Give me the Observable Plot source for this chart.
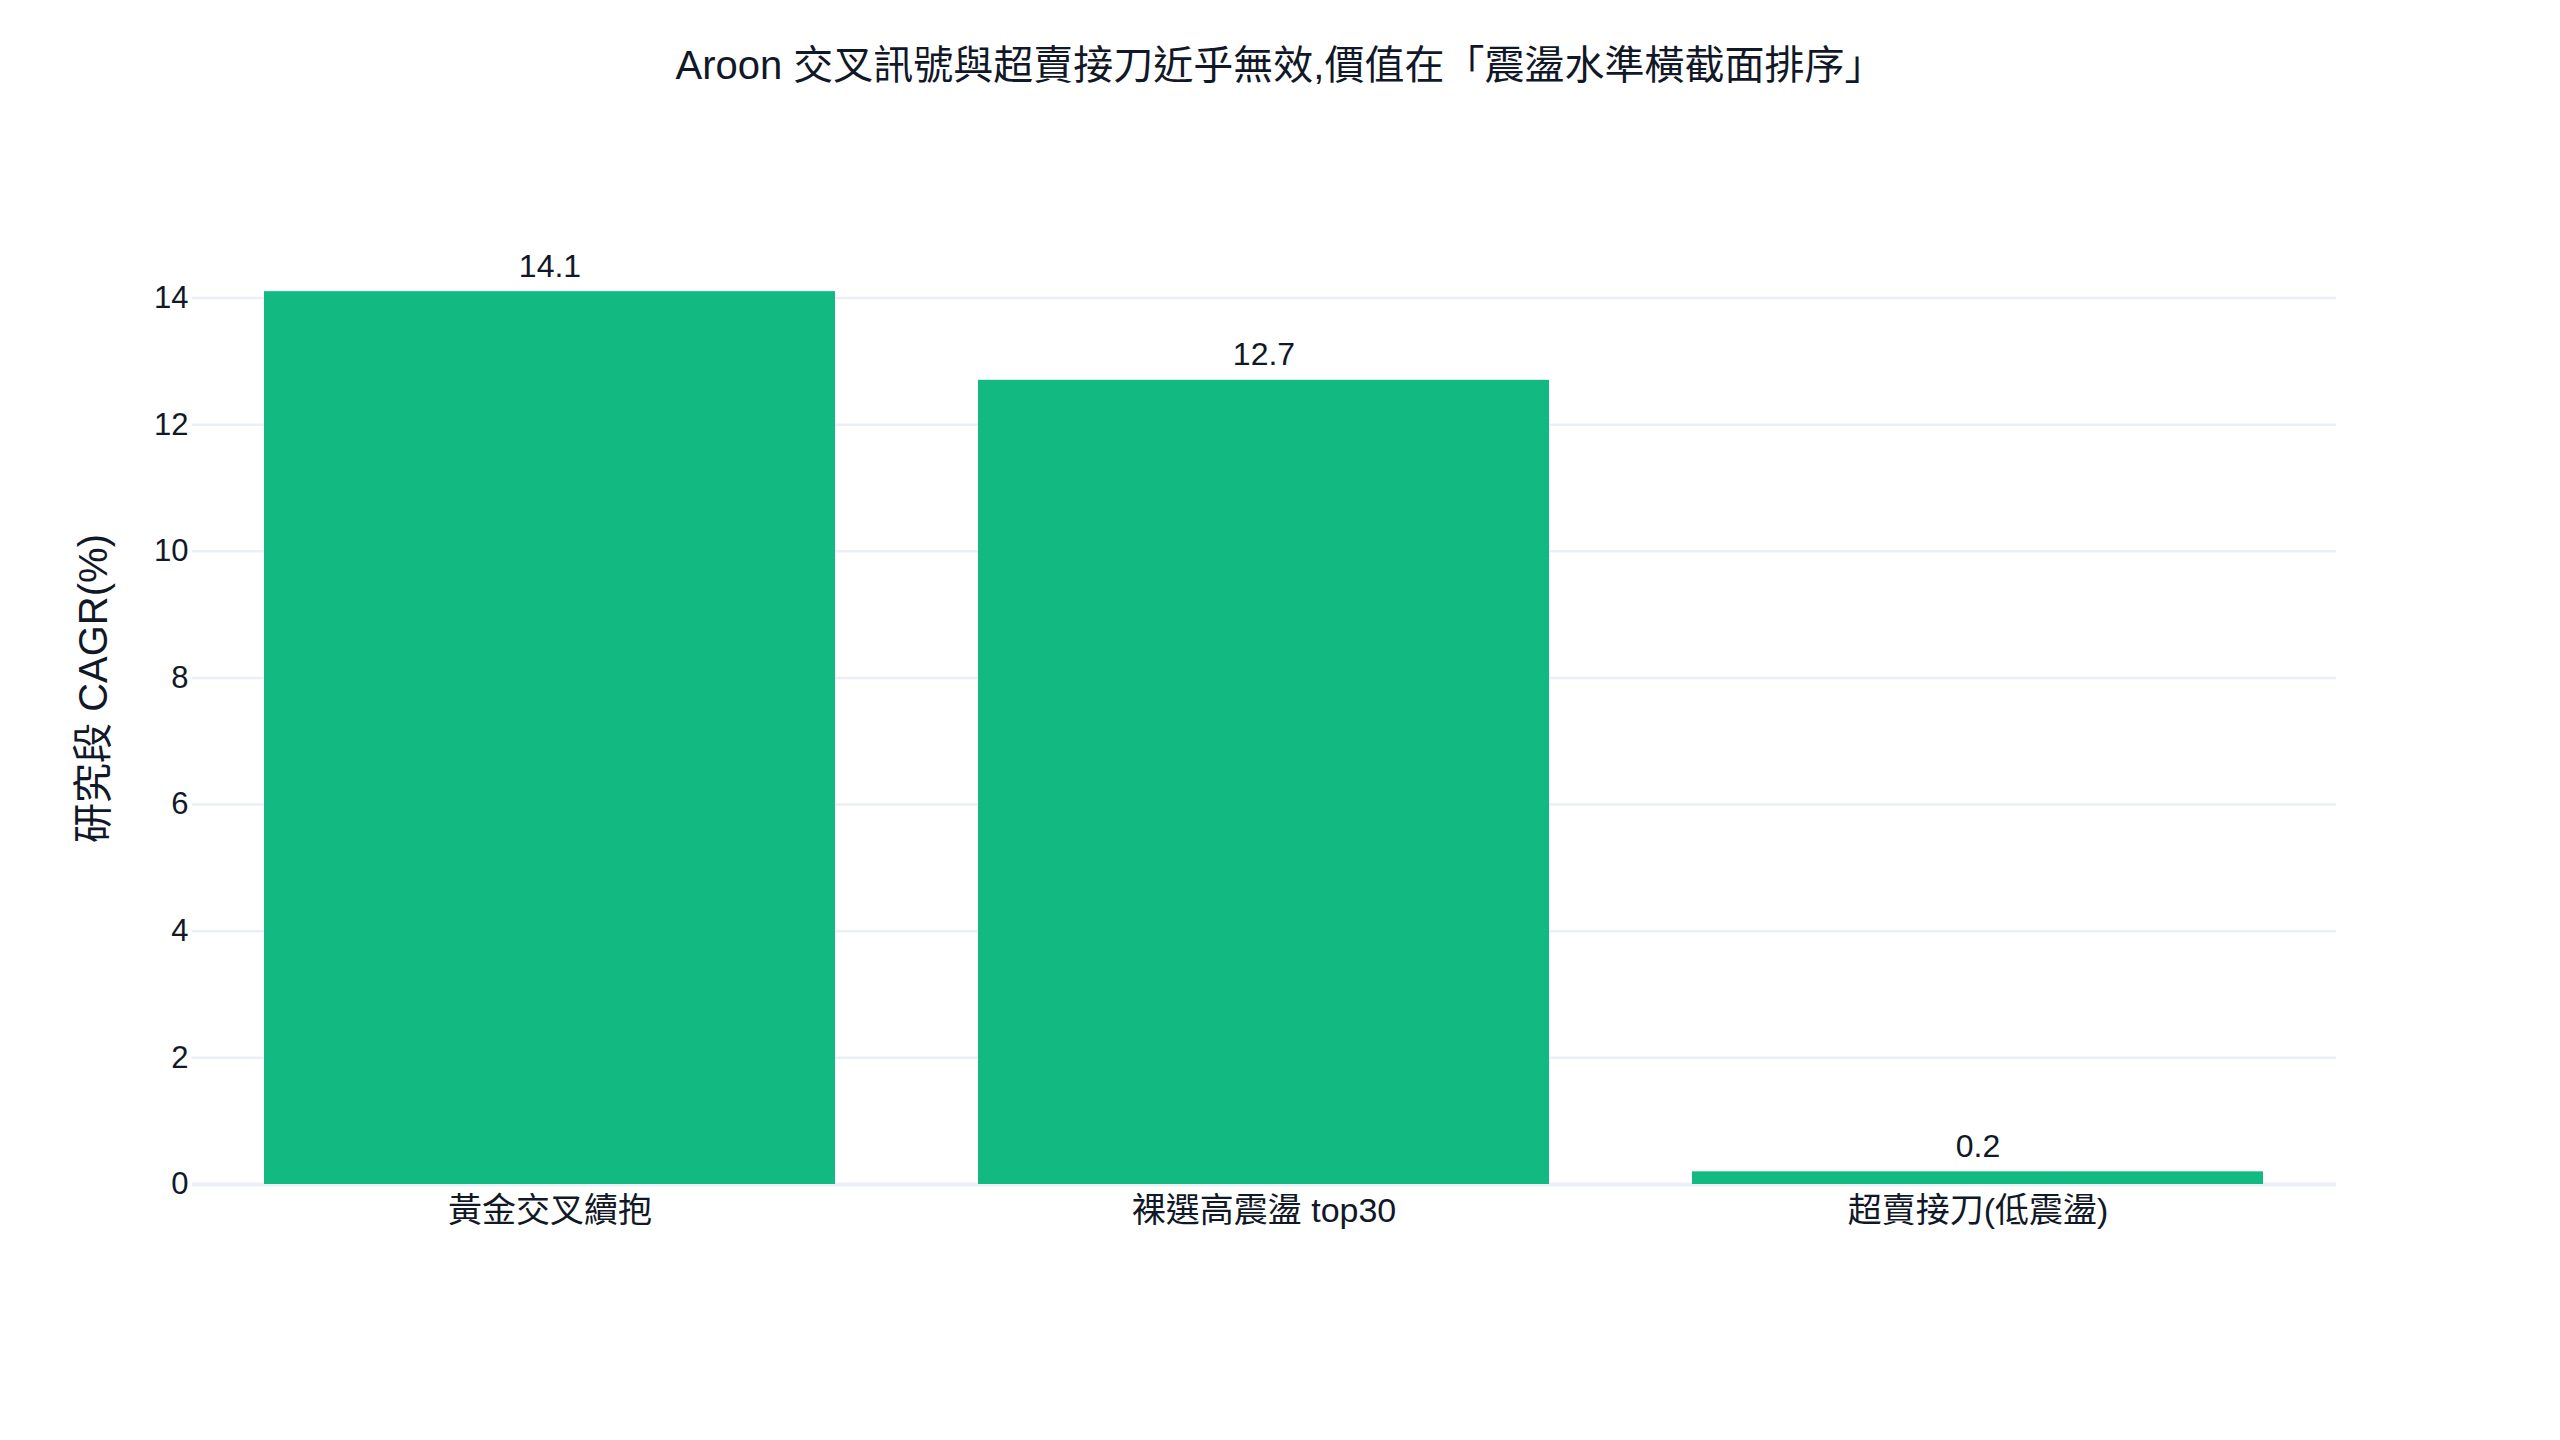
<!DOCTYPE html>
<html>
<head>
<meta charset="utf-8">
<script src="https://cdn.jsdelivr.net/npm/d3@7"></script>
<script src="https://cdn.jsdelivr.net/npm/@observablehq/plot@0.6"></script>
<style>
  html, body { margin: 0; padding: 0; background: #ffffff; }
  #wrap { width: 2560px; font-family: 'Liberation Sans', 'Noto Sans CJK TC', sans-serif; color: #111827; }
  #title { height: 130px; display: flex; align-items: center; justify-content: center; font-size: 40px; line-height: 1; }
  svg { display: block; }
</style>
</head>
<body>
<div id="wrap">
  <div id="title">Aroon 交叉訊號與超賣接刀近乎無效,價值在「震盪水準橫截面排序」</div>
  <div id="chart"></div>
</div>
<script>
const categories = ["黃金交叉續抱", "裸選高震盪 top30", "超賣接刀(低震盪)"];
const cagr = [14.1, 12.7, 0.2];
const yTicks = [0, 2, 4, 6, 8, 10, 12, 14];
const gridTicks = [2, 4, 6, 8, 10, 12, 14];
const yTitle = "研究段 CAGR(%)";

const data = categories.map((c, i) => ({category: c, value: cagr[i]}));

const chart = Plot.plot({
  width: 2560,
  height: 1310,
  marginTop: 120,
  marginBottom: 256,
  marginLeft: 192,
  marginRight: 224,
  style: {
    fontFamily: "'Liberation Sans', 'Noto Sans CJK TC', sans-serif",
    color: "#111827",
    background: "#ffffff",
    overflow: "visible"
  },
  x: {domain: categories, paddingInner: 0.2, paddingOuter: 0.1, label: null},
  y: {domain: [0, 14.75], label: null},
  marks: [
    Plot.ruleY(gridTicks, {stroke: "#EBF0F8", strokeWidth: 2.5, strokeOpacity: 1}),
    Plot.ruleY([0], {stroke: "#EBF0F8", strokeWidth: 4, strokeOpacity: 1}),
    Plot.barY(data, {x: "category", y: "value", fill: "#12B981"}),
    Plot.text(data, {
      x: "category", y: "value", text: d => d.value.toFixed(1),
      lineAnchor: "bottom", dy: -15, fontSize: 32, fill: "#111827"
    }),
    Plot.axisY({ticks: yTicks, tickSize: 0, tickPadding: 4, fontSize: 31, label: null, tickFormat: d => String(d)}),
    Plot.axisX({tickSize: 0, tickPadding: 13, fontSize: 34, label: null}),
    Plot.text([yTitle], {
      text: d => d, frameAnchor: "left", rotate: -90, dx: -98, dy: -29,
      fontSize: 40, fill: "#111827", textAnchor: "middle", lineAnchor: "middle"
    })
  ]
});
document.getElementById("chart").appendChild(chart);
</script>
</body>
</html>
